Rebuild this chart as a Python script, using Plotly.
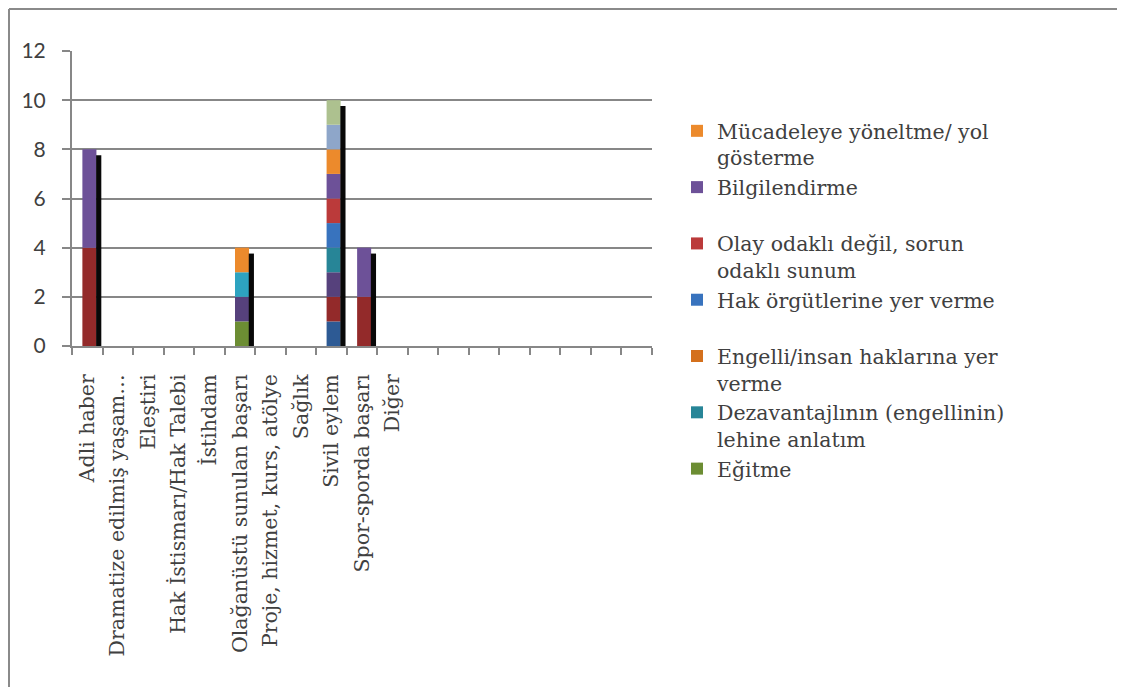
import numpy as np
import plotly.graph_objects as go

# categories on the x axis (the chart keeps 8 empty slots after "Diğer")
categories = ["Adli haber", "Dramatize edilmiş yaşam…", "Eleştiri",
              "Hak İstismarı/Hak Talebi", "İstihdam",
              "Olağanüstü sunulan başarı", "Proje, hizmet, kurs, atölye",
              "Sağlık", "Sivil eylem", "Spor-sporda başarı", "Diğer"]
n_slots = 19

# stacked series, bottom of the stack first
egitme          = [0, 0, 0, 0, 0, 1, 0, 0, 0, 0, 0]
seri_b          = [0, 0, 0, 0, 0, 0, 0, 0, 1, 0, 0]
seri_c          = [4, 0, 0, 0, 0, 0, 0, 0, 1, 2, 0]
seri_d          = [0, 0, 0, 0, 0, 1, 0, 0, 1, 0, 0]
dezavantajli    = [0, 0, 0, 0, 0, 0, 0, 0, 1, 0, 0]
seri_e2         = [0, 0, 0, 0, 0, 1, 0, 0, 0, 0, 0]
engelli_insan   = [0, 0, 0, 0, 0, 0, 0, 0, 0, 0, 0]
hak_orgut       = [0, 0, 0, 0, 0, 0, 0, 0, 1, 0, 0]
olay_odakli     = [0, 0, 0, 0, 0, 0, 0, 0, 1, 0, 0]
bilgilendirme   = [4, 0, 0, 0, 0, 0, 0, 0, 1, 2, 0]
mucadele        = [0, 0, 0, 0, 0, 1, 0, 0, 1, 0, 0]
seri_j          = [0, 0, 0, 0, 0, 0, 0, 0, 1, 0, 0]
seri_k          = [0, 0, 0, 0, 0, 0, 0, 0, 1, 0, 0]

# (name, values, colour, shown in legend, legend text)
series = [
    ("Eğitme", egitme, "#6c8d33", True, "Eğitme<br>&nbsp;"),
    ("Seri 2", seri_b, "#2d5a94", False, None),
    ("Seri 3", seri_c, "#932a2a", False, None),
    ("Seri 4", seri_d, "#56417c", False, None),
    ("Dezavantajlının (engellinin) lehine anlatım", dezavantajli, "#278597", True,
     "Dezavantajlının (engellinin)<br>lehine anlatım"),
    ("Seri 6", seri_e2, "#2da3c0", False, None),
    ("Engelli/insan haklarına yer verme", engelli_insan, "#d4701c", True,
     "Engelli/insan haklarına yer<br>verme"),
    ("Hak örgütlerine yer verme", hak_orgut, "#3873be", True,
     "Hak örgütlerine yer verme<br>&nbsp;"),
    ("Olay odaklı değil, sorun odaklı sunum", olay_odakli, "#bb3a3a", True,
     "Olay odaklı değil, sorun<br>odaklı sunum"),
    ("Bilgilendirme", bilgilendirme, "#6d5198", True, "Bilgilendirme<br>&nbsp;"),
    ("Mücadeleye yöneltme/ yol gösterme", mucadele, "#ec8a2c", True,
     "Mücadeleye yöneltme/ yol<br>gösterme"),
    ("Seri 12", seri_j, "#8ea6c9", False, None),
    ("Seri 13", seri_k, "#adc18f", False, None),
]

SERIF = "DejaVu Serif"

x = np.arange(len(categories))
fig = go.Figure()

base = np.zeros(len(categories))
for name, vals, col, show, label in series:
    vals = np.array(vals, dtype=float)
    fig.add_trace(go.Bar(x=x, y=vals, base=base, name=label if show else name,
                         marker=dict(color=col, line=dict(width=0)),
                         width=0.46, offset=-0.16, showlegend=show,
                         hovertext=[name] * len(x)))
    base = base + vals

# dark side face of the 3D columns
totals = base
side = np.where(totals > 0, totals - 0.24 + 0.08, 0)
fig.add_trace(go.Bar(x=x, y=side, base=-0.08, showlegend=False,
                     marker=dict(color="#080808", line=dict(width=0)),
                     width=0.17, offset=0.29, hoverinfo="skip"))

grid = "#878787"
# the page adds an 8px body margin, so the figure is 8px smaller each way
W, H = 1117, 679
L, T = 64, 43
R, B = W - 644, H - 338

fig.update_layout(
    width=W, height=H,
    margin=dict(l=L, r=R, t=T, b=B, autoexpand=False),
    barmode="overlay",
    plot_bgcolor="white", paper_bgcolor="white",
    font=dict(family=SERIF, color="#404040"),
    legend=dict(xref="container", yref="container", x=669 / W, y=1 - 103 / H,
                xanchor="left", yanchor="top", traceorder="reversed",
                valign="top", itemwidth=30, maxheight=560,
                font=dict(family=SERIF, size=20.5, color="#404040")),
)

fig.update_xaxes(range=[-0.5, n_slots - 0.5], tickvals=list(x), ticktext=categories,
                 tickangle=-90, ticks="", showgrid=False,
                 showline=True, linecolor=grid, linewidth=2,
                 minor=dict(tick0=0.5, dtick=1, ticks="outside", ticklen=7,
                            tickcolor=grid, tickwidth=2, showgrid=False),
                 ticklabelstandoff=18, automargin=False,
                 tickfont=dict(family=SERIF, size=20.5, color="#404040"))

fig.update_yaxes(range=[0, 12], dtick=2, showgrid=True, gridcolor=grid, gridwidth=2,
                 showline=True, linecolor=grid, linewidth=2,
                 ticks="outside", ticklen=8, tickcolor=grid, tickwidth=2,
                 ticklabelstandoff=12, zeroline=False, automargin=False,
                 tickfont=dict(family="Lato", size=21, color="#404040"))

# outer chart frame (left and top edges visible)
def px_x(p):
    return (p - L) / (W - L - R)

def px_y(p):
    return (H - B - p) / (H - T - B)

fig.add_shape(type="line", xref="paper", yref="paper",
              x0=px_x(1), x1=px_x(1), y0=px_y(1), y1=px_y(H + 5),
              line=dict(color="#8a8a8a", width=2))
fig.add_shape(type="line", xref="paper", yref="paper",
              x0=px_x(1), x1=px_x(W + 5), y0=px_y(1), y1=px_y(1),
              line=dict(color="#8a8a8a", width=2))

fig.write_html("out.html")
